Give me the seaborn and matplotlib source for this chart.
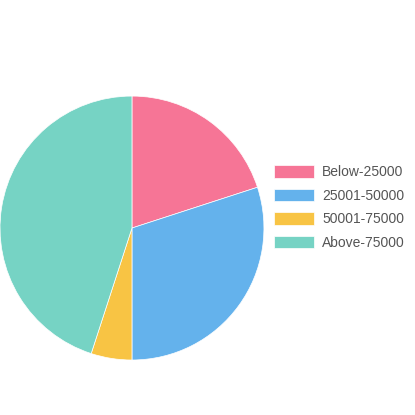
import matplotlib
matplotlib.use("Agg")
import matplotlib.pyplot as plt
import seaborn as sns
from matplotlib.patches import Patch

categories = ["Below-25000", "25001-50000", "50001-75000", "Above-75000"]
values = [20, 30, 5, 45]
colors = ["#f67596", "#64b2ec", "#f8c444", "#76d3c4"]

sns.set_theme(style="white")
plt.rcParams["font.family"] = ["Liberation Sans", "DejaVu Sans"]

fig = plt.figure(figsize=(4.15, 4.15), dpi=100)
fig.patch.set_facecolor("white")
ax = fig.add_axes([0.0, 0.1325, 0.636, 0.636])
ax.pie(values, colors=colors, startangle=90, counterclock=False,
       wedgeprops={"edgecolor": "white", "linewidth": 0.5})
ax.set_xlim(-1, 1)
ax.set_ylim(-1, 1)
ax.set_aspect("equal")
ax.axis("off")

handles = [Patch(facecolor=c, edgecolor="white", linewidth=0.5) for c in colors]
fig.legend(handles, categories, loc="center left", bbox_to_anchor=(0.630, 0.5),
           frameon=False, fontsize=10, handlelength=2.88, handleheight=1.0,
           handletextpad=0.58, labelspacing=0.68, labelcolor="#555555")

fig.savefig("out.png", dpi=100, facecolor="white")
